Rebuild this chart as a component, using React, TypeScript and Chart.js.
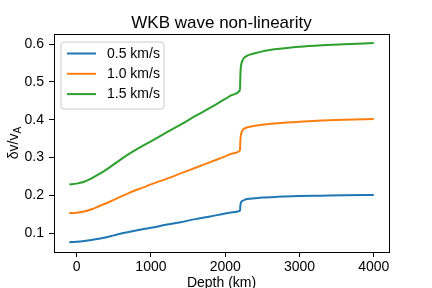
import React, { useEffect, useRef } from "react";
import { Chart, registerables } from "chart.js";

Chart.register(...registerables);

const depth = [-100, 0, 100, 200, 300, 400, 500, 600, 700, 800, 900, 1000, 1200, 1400, 1600, 1800, 2000, 2100, 2195, 2200, 2203, 2207, 2215, 2230, 2260, 2300, 2400, 2500, 2700, 3000, 3300, 3600, 4000];
const v05 = [0.076, 0.077, 0.079, 0.082, 0.085, 0.089, 0.094, 0.099, 0.103, 0.107, 0.111, 0.114, 0.122, 0.129, 0.137, 0.144, 0.152, 0.155, 0.159, 0.161, 0.170, 0.177, 0.182, 0.185, 0.188, 0.190, 0.192, 0.194, 0.196, 0.198, 0.199, 0.200, 0.201];
const v10 = [0.153, 0.154, 0.157, 0.163, 0.171, 0.179, 0.188, 0.197, 0.206, 0.214, 0.221, 0.229, 0.243, 0.258, 0.273, 0.288, 0.303, 0.311, 0.318, 0.323, 0.340, 0.353, 0.363, 0.371, 0.377, 0.380, 0.384, 0.387, 0.391, 0.395, 0.398, 0.400, 0.402];
const v15 = [0.229, 0.231, 0.236, 0.245, 0.256, 0.268, 0.282, 0.296, 0.309, 0.321, 0.332, 0.343, 0.365, 0.387, 0.410, 0.432, 0.455, 0.466, 0.477, 0.484, 0.510, 0.530, 0.545, 0.556, 0.565, 0.570, 0.576, 0.581, 0.587, 0.593, 0.597, 0.600, 0.603];
const seriesLabels = ["0.5 km/s", "1.0 km/s", "1.5 km/s"];
const colors = ["#1f77b4", "#ff7f0e", "#2ca02c"];
const xTicks = [0, 1000, 2000, 3000, 4000];
const yTicks = [0.1, 0.2, 0.3, 0.4, 0.5, 0.6];
const titleText = "WKB wave non-linearity";
const xLabel = "Depth (km)";

const FONT = "'Liberation Sans', Arial, Helvetica, sans-serif";

export default function App() {
  const ref = useRef<HTMLCanvasElement>(null);
  useEffect(() => {
    const canvas = ref.current!;
    const allSeries = [v05, v10, v15];
    const datasets = allSeries.map((s, i) => ({
      label: seriesLabels[i],
      data: depth.map((d, j) => ({ x: d, y: s[j] })),
      borderColor: colors[i],
      backgroundColor: colors[i],
      borderWidth: 2,
      pointRadius: 0,
      cubicInterpolationMode: "monotone" as const,
      fill: false,
    }));

    const deco = {
      id: "deco",
      afterDraw(chart: any) {
        const ctx = chart.ctx;
        const a = chart.chartArea;
        ctx.save();
        ctx.strokeStyle = "#000";
        ctx.lineWidth = 1;
        ctx.strokeRect(Math.round(a.left) + 0.5, Math.round(a.top) + 0.5, Math.round(a.right - a.left), Math.round(a.bottom - a.top));
        ctx.fillStyle = "#000";
        ctx.font = `17px ${FONT}`;
        ctx.textAlign = "center";
        ctx.textBaseline = "alphabetic";
        ctx.fillText(titleText, (a.left + a.right) / 2, 28);
        ctx.font = `14px ${FONT}`;
        ctx.fillText(xLabel, (a.left + a.right) / 2, 287);
        ctx.save();
        ctx.translate(18, (a.top + a.bottom) / 2);
        ctx.rotate(-Math.PI / 2);
        ctx.textAlign = "left";
        ctx.font = `14px ${FONT}`;
        const main = "\u03b4v/v";
        const wMain = ctx.measureText(main).width;
        ctx.font = `10px ${FONT}`;
        const wSub = ctx.measureText("A").width;
        const total = wMain + wSub;
        ctx.font = `14px ${FONT}`;
        ctx.fillText(main, -total / 2, 0);
        ctx.font = `10px ${FONT}`;
        ctx.fillText("A", -total / 2 + wMain, 3);
        ctx.restore();
        const lx = 61, ly = 42, lw = 103, lh = 67;
        ctx.fillStyle = "rgba(255,255,255,0.8)";
        ctx.strokeStyle = "#cccccc";
        ctx.lineWidth = 1;
        ctx.beginPath();
        const r = 3;
        ctx.moveTo(lx + r, ly);
        ctx.lineTo(lx + lw - r, ly);
        ctx.arcTo(lx + lw, ly, lx + lw, ly + r, r);
        ctx.lineTo(lx + lw, ly + lh - r);
        ctx.arcTo(lx + lw, ly + lh, lx + lw - r, ly + lh, r);
        ctx.lineTo(lx + r, ly + lh);
        ctx.arcTo(lx, ly + lh, lx, ly + lh - r, r);
        ctx.lineTo(lx, ly + r);
        ctx.arcTo(lx, ly, lx + r, ly, r);
        ctx.closePath();
        ctx.fill();
        ctx.stroke();
        ctx.font = `14px ${FONT}`;
        ctx.textAlign = "left";
        ctx.textBaseline = "middle";
        seriesLabels.forEach((lab, i) => {
          const yy = 53.5 + i * 20.3;
          ctx.strokeStyle = colors[i];
          ctx.lineWidth = 2;
          ctx.beginPath();
          ctx.moveTo(67, yy);
          ctx.lineTo(96, yy);
          ctx.stroke();
          ctx.fillStyle = "#000";
          ctx.fillText(lab, 107, yy + 0.5);
        });
        ctx.restore();
      },
    };

    const chart = new Chart(canvas, {
      type: "line",
      data: { datasets },
      options: {
        animation: false,
        responsive: false,
        devicePixelRatio: 1,
        layout: { padding: { left: 0, top: 34, right: 43, bottom: 0 } },
        plugins: { legend: { display: false }, title: { display: false }, tooltip: { enabled: false } },
        scales: {
          x: {
            type: "linear",
            min: -305,
            max: 4205,
            afterFit: (s: any) => { s.height = 36; },
            afterBuildTicks: (s: any) => { s.ticks = xTicks.map((v) => ({ value: v })); },
            ticks: { color: "#000", font: { size: 14, family: FONT }, padding: 2, maxRotation: 0, autoSkip: false, callback: (v: any) => String(v) },
            grid: { drawOnChartArea: false, drawTicks: true, tickLength: 5, color: "#000" },
            border: { display: true, color: "#000" },
          },
          y: {
            type: "linear",
            min: 0.05,
            max: 0.627,
            afterFit: (s: any) => { s.width = 54; },
            afterBuildTicks: (s: any) => { s.ticks = yTicks.map((v) => ({ value: v })); },
            ticks: { color: "#000", font: { size: 14, family: FONT }, padding: 5, autoSkip: false, callback: (v: any) => Number(v).toFixed(1) },
            grid: { drawOnChartArea: false, drawTicks: true, tickLength: 5, color: "#000" },
            border: { display: true, color: "#000" },
          },
        },
      },
      plugins: [deco],
    });
    return () => chart.destroy();
  }, []);

  return (
    <div style={{ position: "fixed", left: 0, top: 0, width: 432, height: 288, background: "#fff" }}>
      <canvas ref={ref} width={432} height={288} style={{ display: "block", width: 432, height: 288 }} />
    </div>
  );
}
